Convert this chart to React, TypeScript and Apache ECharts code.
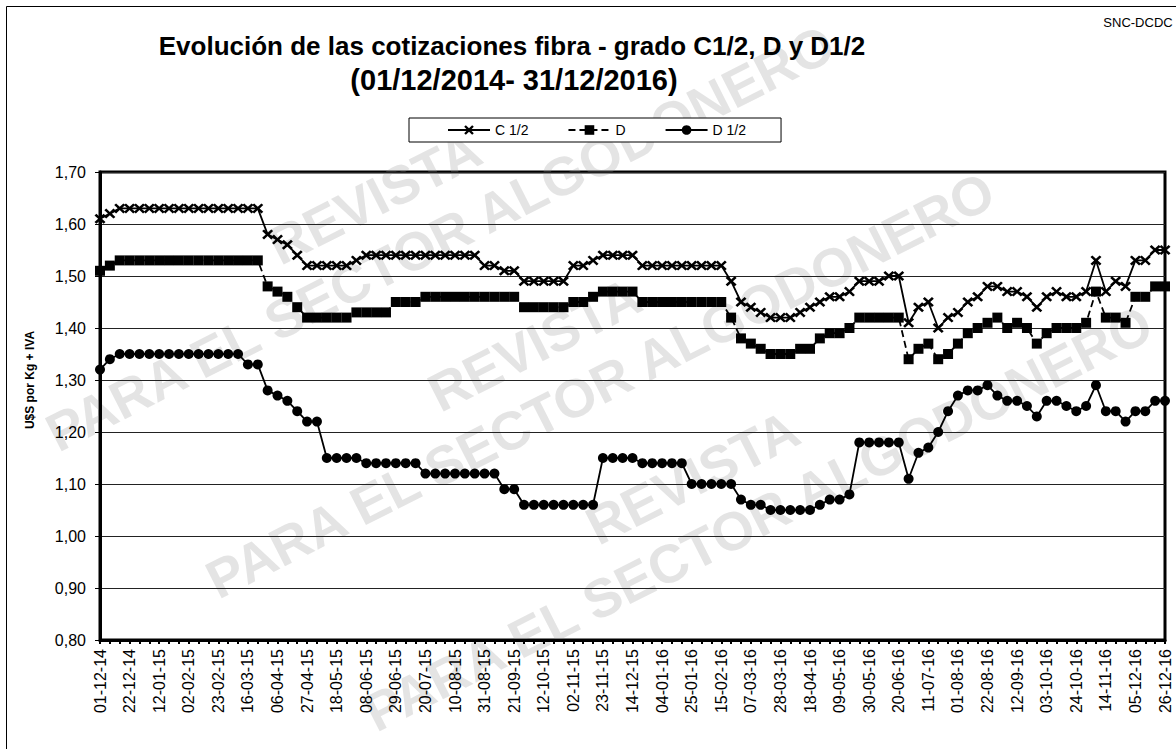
import React, { useEffect, useRef } from "react";
import * as echarts from "echarts";

// ---------- data ----------
const START_DATE_UTC = Date.UTC(2014, 11, 1); // 01-12-14, weekly quotes
const WEEK_COUNT = 109;

const pad2 = (n: number) => (n < 10 ? "0" + n : "" + n);
const categories: string[] = [];
for (let i = 0; i < WEEK_COUNT; i++) {
  const d = new Date(START_DATE_UTC + i * 7 * 86400000);
  categories.push(
    pad2(d.getUTCDate()) + "-" + pad2(d.getUTCMonth() + 1) + "-" + pad2(d.getUTCFullYear() % 100)
  );
}

const seriesNames = ["C 1/2", "D", "D 1/2"];

const valuesC12 = [
  1.61, 1.62, 1.63, 1.63, 1.63, 1.63, 1.63, 1.63, 1.63, 1.63,
  1.63, 1.63, 1.63, 1.63, 1.63, 1.63, 1.63, 1.58, 1.57, 1.56,
  1.54, 1.52, 1.52, 1.52, 1.52, 1.52, 1.53, 1.54, 1.54, 1.54,
  1.54, 1.54, 1.54, 1.54, 1.54, 1.54, 1.54, 1.54, 1.54, 1.52,
  1.52, 1.51, 1.51, 1.49, 1.49, 1.49, 1.49, 1.49, 1.52, 1.52,
  1.53, 1.54, 1.54, 1.54, 1.54, 1.52, 1.52, 1.52, 1.52, 1.52,
  1.52, 1.52, 1.52, 1.52, 1.49, 1.45, 1.44, 1.43, 1.42, 1.42,
  1.42, 1.43, 1.44, 1.45, 1.46, 1.46, 1.47, 1.49, 1.49, 1.49,
  1.50, 1.50, 1.41, 1.44, 1.45, 1.40, 1.42, 1.43, 1.45, 1.46,
  1.48, 1.48, 1.47, 1.47, 1.46, 1.44, 1.46, 1.47, 1.46, 1.46,
  1.47, 1.53, 1.47, 1.49, 1.48, 1.53, 1.53, 1.55, 1.55,
];

const valuesD = [
  1.51, 1.52, 1.53, 1.53, 1.53, 1.53, 1.53, 1.53, 1.53, 1.53,
  1.53, 1.53, 1.53, 1.53, 1.53, 1.53, 1.53, 1.48, 1.47, 1.46,
  1.44, 1.42, 1.42, 1.42, 1.42, 1.42, 1.43, 1.43, 1.43, 1.43,
  1.45, 1.45, 1.45, 1.46, 1.46, 1.46, 1.46, 1.46, 1.46, 1.46,
  1.46, 1.46, 1.46, 1.44, 1.44, 1.44, 1.44, 1.44, 1.45, 1.45,
  1.46, 1.47, 1.47, 1.47, 1.47, 1.45, 1.45, 1.45, 1.45, 1.45,
  1.45, 1.45, 1.45, 1.45, 1.42, 1.38, 1.37, 1.36, 1.35, 1.35,
  1.35, 1.36, 1.36, 1.38, 1.39, 1.39, 1.40, 1.42, 1.42, 1.42,
  1.42, 1.42, 1.34, 1.36, 1.37, 1.34, 1.35, 1.37, 1.39, 1.40,
  1.41, 1.42, 1.40, 1.41, 1.40, 1.37, 1.39, 1.40, 1.40, 1.40,
  1.41, 1.47, 1.42, 1.42, 1.41, 1.46, 1.46, 1.48, 1.48,
];

const valuesD12 = [
  1.32, 1.34, 1.35, 1.35, 1.35, 1.35, 1.35, 1.35, 1.35, 1.35,
  1.35, 1.35, 1.35, 1.35, 1.35, 1.33, 1.33, 1.28, 1.27, 1.26,
  1.24, 1.22, 1.22, 1.15, 1.15, 1.15, 1.15, 1.14, 1.14, 1.14,
  1.14, 1.14, 1.14, 1.12, 1.12, 1.12, 1.12, 1.12, 1.12, 1.12,
  1.12, 1.09, 1.09, 1.06, 1.06, 1.06, 1.06, 1.06, 1.06, 1.06,
  1.06, 1.15, 1.15, 1.15, 1.15, 1.14, 1.14, 1.14, 1.14, 1.14,
  1.10, 1.10, 1.10, 1.10, 1.10, 1.07, 1.06, 1.06, 1.05, 1.05,
  1.05, 1.05, 1.05, 1.06, 1.07, 1.07, 1.08, 1.18, 1.18, 1.18,
  1.18, 1.18, 1.11, 1.16, 1.17, 1.20, 1.24, 1.27, 1.28, 1.28,
  1.29, 1.27, 1.26, 1.26, 1.25, 1.23, 1.26, 1.26, 1.25, 1.24,
  1.25, 1.29, 1.24, 1.24, 1.22, 1.24, 1.24, 1.26, 1.26,
];

const titleLine1 = "Evolución de las cotizaciones fibra - grado C1/2, D y D1/2";
const titleLine2 = "(01/12/2014- 31/12/2016)";
const sourceText = "SNC-DCDC";
const yAxisName = "U$S por Kg + IVA";
const watermarkTop = "REVISTA";
const watermarkLine = "PARA EL SECTOR ALGODONERO";

// ---------- styles ----------
const FONT = '"Liberation Sans", Arial, sans-serif';
const X_SYMBOL =
  "path://M0,1.7L1.7,0L5,3.3L8.3,0L10,1.7L6.7,5L10,8.3L8.3,10L5,6.7L1.7,10L0,8.3L3.3,5Z";

function watermarkBlock(cx: number, cy: number) {
  const st = { fill: "rgba(150,150,150,0.26)", font: `bold 54px ${FONT}` };
  return {
    type: "group",
    x: cx,
    y: cy,
    rotation: 0.47,
    silent: true,
    z: 0,
    children: [
      { type: "text", x: -40, y: -66, style: { ...st, text: watermarkTop, align: "center", verticalAlign: "middle" } },
      { type: "text", x: 0, y: 0, style: { ...st, text: watermarkLine, align: "center", verticalAlign: "middle" } },
    ],
  };
}

export default function App() {
  const ref = useRef<HTMLDivElement>(null);

  useEffect(() => {
    if (!ref.current) return;
    const chart = echarts.init(ref.current, undefined, { renderer: "svg" });

    const lineStyle = { color: "#000", width: 1.8 };

    chart.setOption({
      animation: false,
      backgroundColor: "#fff",
      textStyle: { fontFamily: FONT },
      grid: {
        left: 100,
        right: 11,
        top: 172,
        bottom: 109,
        show: true,
        borderColor: "#000",
        borderWidth: 3,
        backgroundColor: "transparent",
      },
      legend: {
        left: 409,
        top: 118,
        padding: [5, 35, 5, 38],
        itemGap: 39,
        itemWidth: 42,
        itemHeight: 12,
        borderColor: "#000",
        borderWidth: 1,
        backgroundColor: "#fff",
        textStyle: { fontSize: 14, color: "#000", fontFamily: FONT },
        data: seriesNames,
      },
      xAxis: {
        type: "category",
        data: categories,
        boundaryGap: false,
        axisLine: { show: true, lineStyle: { color: "#000", width: 3 } },
        axisTick: { show: true, interval: 0, length: 4, lineStyle: { color: "#000", width: 2 } },
        axisLabel: {
          interval: 2,
          rotate: 90,
          margin: 9,
          fontSize: 16,
          color: "#000",
          fontFamily: FONT,
        },
        splitLine: { show: false },
      },
      yAxis: {
        type: "value",
        min: 0.8,
        max: 1.7,
        interval: 0.1,
        axisLine: { show: true, lineStyle: { color: "#000", width: 3 } },
        axisTick: { show: true, length: 5, lineStyle: { color: "#000", width: 1 } },
        axisLabel: {
          margin: 14,
          fontSize: 16,
          color: "#000",
          fontFamily: FONT,
          formatter: (v: number) => v.toFixed(2).replace(".", ","),
        },
        splitLine: { show: true, lineStyle: { color: "#222", width: 1 } },
      },
      graphic: [
        watermarkBlock(440, 238),
        watermarkBlock(600, 385),
        watermarkBlock(758, 518),
        {
          type: "rect",
          silent: true,
          shape: { x: 6.5, y: 6.5, width: 1200, height: 800 },
          style: { fill: "none", stroke: "#000", lineWidth: 1 },
        },
        {
          type: "text",
          x: 512,
          y: 46,
          style: { text: titleLine1, align: "center", verticalAlign: "middle", font: `bold 26px ${FONT}`, fill: "#000" },
        },
        {
          type: "text",
          x: 514,
          y: 80,
          style: { text: titleLine2, align: "center", verticalAlign: "middle", font: `bold 29px ${FONT}`, fill: "#000" },
        },
        {
          type: "text",
          x: 1138,
          y: 22,
          style: { text: sourceText, align: "center", verticalAlign: "middle", font: `13px ${FONT}`, fill: "#000" },
        },
        {
          type: "text",
          x: 30,
          y: 380,
          rotation: Math.PI / 2,
          style: { text: yAxisName, align: "center", verticalAlign: "middle", font: `bold 12px ${FONT}`, fill: "#000" },
        },
      ],
      series: [
        {
          name: seriesNames[0],
          type: "line",
          data: valuesC12,
          symbol: X_SYMBOL,
          symbolSize: [11, 10],
          showAllSymbol: true,
          lineStyle,
          itemStyle: { color: "#000" },
          z: 5,
        },
        {
          name: seriesNames[1],
          type: "line",
          data: valuesD,
          symbol: "rect",
          symbolSize: 10,
          showAllSymbol: true,
          lineStyle: { ...lineStyle, type: [7, 4] },
          itemStyle: { color: "#000" },
          z: 5,
        },
        {
          name: seriesNames[2],
          type: "line",
          data: valuesD12,
          symbol: "circle",
          symbolSize: 10,
          showAllSymbol: true,
          lineStyle,
          itemStyle: { color: "#000" },
          z: 5,
        },
      ],
    });

    return () => chart.dispose();
  }, []);

  return (
    <div
      ref={ref}
      style={{ position: "absolute", left: 0, top: 0, width: 1176, height: 749, background: "#fff" }}
    />
  );
}
